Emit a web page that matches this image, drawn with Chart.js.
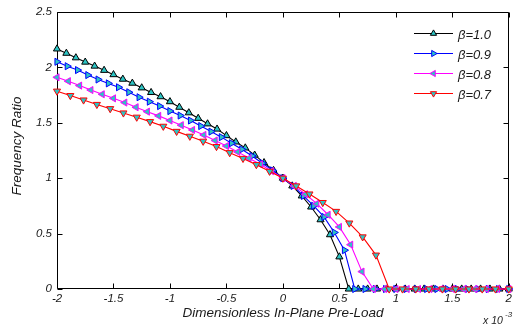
<!DOCTYPE html>
<html><head><meta charset="utf-8">
<script src="https://cdn.jsdelivr.net/npm/chart.js@4/dist/chart.umd.min.js"></script>
<style>html,body{margin:0;padding:0;background:#fff;overflow:hidden}</style>
</head><body>
<canvas id="c" width="515" height="327"></canvas>
<script>
// ---- data ----
const xTicks = [-2, -1.5, -1, -0.5, 0, 0.5, 1, 1.5, 2];
const yTicks = [0, 0.5, 1, 1.5, 2, 2.5];
const seriesNames = ['\u03b2=1.0', '\u03b2=0.9', '\u03b2=0.8', '\u03b2=0.7'];

const xB10 = [-2,-1.917,-1.833,-1.75,-1.667,-1.583,-1.5,-1.417,-1.333,-1.25,-1.167,-1.083,-1,-0.917,-0.833,-0.75,-0.667,-0.583,-0.5,-0.417,-0.333,-0.25,-0.167,-0.083,0,0.083,0.167,0.25,0.333,0.417,0.5,0.583,0.667,0.75,0.833,0.917,1,1.083,1.167,1.25,1.333,1.417,1.5,1.583,1.667,1.75,1.833,1.917,2];
const yB10 = [2.166,2.127,2.086,2.047,2.011,1.973,1.934,1.893,1.857,1.815,1.773,1.735,1.69,1.64,1.59,1.54,1.49,1.443,1.384,1.327,1.273,1.208,1.14,1.07,1.0,0.93,0.84,0.74,0.625,0.49,0.29,0,0,0,0,0,0,0,0,0,0,0,0,0,0,0,0,0,0];

const xB09 = [-2,-1.909,-1.818,-1.727,-1.636,-1.545,-1.455,-1.364,-1.273,-1.182,-1.091,-1,-0.909,-0.818,-0.727,-0.636,-0.545,-0.455,-0.364,-0.273,-0.182,-0.091,0,0.091,0.182,0.273,0.364,0.455,0.545,0.636,0.727,0.818,0.909,1,1.091,1.182,1.273,1.364,1.455,1.545,1.636,1.727,1.818,1.909,2];
const yB09 = [2.05,2.01,1.975,1.93,1.89,1.855,1.82,1.775,1.73,1.69,1.65,1.605,1.565,1.52,1.47,1.42,1.37,1.315,1.26,1.2,1.135,1.07,1.0,0.93,0.84,0.75,0.65,0.51,0.35,0,0,0,0,0,0,0,0,0,0,0,0,0,0,0,0];

const xB08 = [-2,-1.9,-1.8,-1.7,-1.6,-1.5,-1.4,-1.3,-1.2,-1.1,-1,-0.9,-0.8,-0.7,-0.6,-0.5,-0.4,-0.3,-0.2,-0.1,0,0.1,0.2,0.3,0.4,0.5,0.6,0.7,0.8,0.9,1,1.1,1.2,1.3,1.4,1.5,1.6,1.7,1.8,1.9,2];
const yB08 = [1.91,1.875,1.835,1.795,1.757,1.72,1.682,1.64,1.6,1.562,1.52,1.478,1.435,1.39,1.34,1.29,1.237,1.18,1.125,1.063,1.0,0.93,0.855,0.77,0.67,0.56,0.4,0.157,0,0,0,0,0,0,0,0,0,0,0,0,0];

const xB07 = [-2,-1.882,-1.765,-1.647,-1.529,-1.412,-1.294,-1.176,-1.059,-0.941,-0.824,-0.706,-0.588,-0.471,-0.353,-0.235,-0.118,0,0.118,0.235,0.353,0.471,0.588,0.706,0.824,0.941,1.059,1.176,1.294,1.412,1.529,1.647,1.765,1.882,2];
const yB07 = [1.785,1.745,1.705,1.665,1.627,1.588,1.55,1.51,1.468,1.422,1.378,1.333,1.285,1.23,1.178,1.122,1.062,1.0,0.93,0.857,0.78,0.7,0.595,0.47,0.306,0,0,0,0,0,0,0,0,0,0];

// ---- styling ----
const FILL = '#2cc4c4';
const FONT = '"Liberation Sans", Arial, Helvetica, sans-serif';
const styles = [
  {color:'#000000', rot:0},
  {color:'#0000ff', rot:90},
  {color:'#ff00ff', rot:-90},
  {color:'#ff0000', rot:180}
];
const xs = [xB10, xB09, xB08, xB07];
const ys = [yB10, yB09, yB08, yB07];

const datasets = xs.map((xa, s) => ({
  label: seriesNames[s],
  data: xa.map((x, i) => ({x: x, y: ys[s][i]})),
  borderColor: styles[s].color,
  borderWidth: 1.1,
  pointStyle: 'triangle',
  pointRotation: styles[s].rot,
  pointRadius: 4.1,
  pointBorderWidth: 1,
  pointBackgroundColor: FILL,
  pointBorderColor: styles[s].color,
  tension: 0,
  fill: false,
  clip: false,
  order: 3 - s
}));

const framePlugin = {
  id: 'frame',
  beforeDatasetsDraw(chart) {
    const {ctx, chartArea: a, scales} = chart;
    ctx.save();
    ctx.strokeStyle = '#000';
    ctx.lineWidth = 1;
    const L = Math.round(a.left) + 0.5, R = Math.round(a.right) - 0.5;
    const T = Math.round(a.top) + 0.5, B = Math.round(a.bottom) - 0.5;
    ctx.beginPath();
    ctx.rect(L, T, R - L, B - T);
    const tl = 5;
    xTicks.forEach(v => {
      const px = Math.round(scales.x.getPixelForValue(v)) + 0.5;
      ctx.moveTo(px, B); ctx.lineTo(px, B - tl);
      ctx.moveTo(px, T); ctx.lineTo(px, T + tl);
    });
    yTicks.forEach(v => {
      const py = Math.round(scales.y.getPixelForValue(v)) + 0.5;
      ctx.moveTo(L, py); ctx.lineTo(L + tl, py);
      ctx.moveTo(R, py); ctx.lineTo(R - tl, py);
    });
    ctx.stroke();
    ctx.restore();
  },
  afterDraw(chart) {
    const {ctx} = chart;
    ctx.save();
    ctx.fillStyle = '#1a1a1a';
    // axis titles
    ctx.font = 'italic 13.5px ' + FONT;
    ctx.textAlign = 'center';
    ctx.textBaseline = 'middle';
    ctx.fillText('Dimensionless In-Plane Pre-Load', 283, 313);
    ctx.save();
    ctx.translate(17, 146);
    ctx.rotate(-Math.PI / 2);
    ctx.fillText('Frequency Ratio', 0, 0);
    ctx.restore();
    // exponent
    ctx.textAlign = 'left';
    ctx.textBaseline = 'alphabetic';
    ctx.font = 'italic 10.5px ' + FONT;
    ctx.fillText('x 10', 483, 324);
    ctx.font = 'italic 8px ' + FONT;
    ctx.fillText('-3', 505, 317);
    // legend
    const rows = [33, 53, 73, 93];
    rows.forEach((y, s) => {
      ctx.strokeStyle = styles[s].color;
      ctx.lineWidth = 1;
      ctx.beginPath();
      ctx.moveTo(414, y + 0.5); ctx.lineTo(453, y + 0.5);
      ctx.stroke();
      ctx.fillStyle = FILL;
      ctx.strokeStyle = styles[s].color;
      Chart.helpers.drawPoint(ctx, {pointStyle:'triangle', rotation: styles[s].rot, radius: 3.6, borderWidth: 1}, 433.5, y + 0.5);
      ctx.fillStyle = '#1a1a1a';
      ctx.font = 'italic 13px ' + FONT;
      ctx.textAlign = 'left';
      ctx.textBaseline = 'middle';
      ctx.fillText(seriesNames[s], 458, y + 2);
    });
    ctx.restore();
  }
};

new Chart(document.getElementById('c').getContext('2d'), {
  type: 'line',
  data: {datasets},
  options: {
    responsive: false,
    animation: false,
    devicePixelRatio: 1,
    layout: {padding: {top: 9, right: 2, left: 0, bottom: 0}},
    plugins: {legend: {display: false}, tooltip: {enabled: false}, title: {display: false}},
    elements: {line: {borderJoinStyle: 'miter'}},
    scales: {
      x: {
        type: 'linear', min: -2, max: 2,
        afterBuildTicks: s => { s.ticks = xTicks.map(v => ({value: v})); },
        afterFit: s => { s.height = 38; },
        grid: {display: false, drawTicks: false},
        border: {display: false},
        ticks: {autoSkip: false, maxRotation: 0, padding: 3, color: '#1a1a1a',
          font: {family: FONT, size: 11.5, style: 'italic'},
          callback: v => String(v)}
      },
      y: {
        type: 'linear', min: 0, max: 2.5,
        afterBuildTicks: s => { s.ticks = yTicks.map(v => ({value: v})); },
        afterFit: s => { s.width = 57; },
        grid: {display: false, drawTicks: false},
        border: {display: false},
        ticks: {autoSkip: false, padding: 5, color: '#1a1a1a',
          font: {family: FONT, size: 11.5, style: 'italic'},
          callback: v => String(v)}
      }
    }
  },
  plugins: [framePlugin]
});
</script>
</body></html>
